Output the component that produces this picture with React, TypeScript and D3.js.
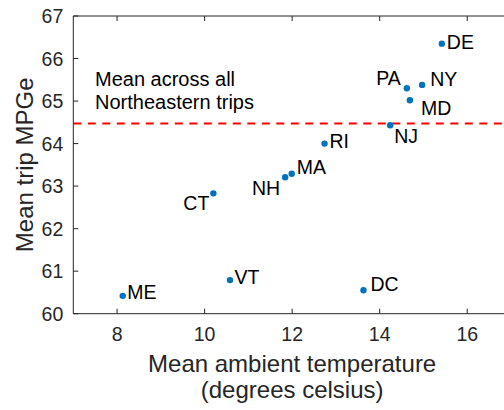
import * as d3 from "d3";

const states = ["DE", "PA", "NY", "MD", "NJ", "RI", "MA", "NH", "CT", "ME", "VT", "DC"];
const temps = [15.42, 14.62, 14.97, 14.69, 14.24, 12.74, 11.99, 11.84, 10.2, 8.13, 10.58, 13.63];
const mpge = [66.35, 65.3, 65.38, 65.02, 64.43, 64.0, 63.29, 63.21, 62.83, 60.42, 60.79, 60.55];
const meanMpge = 64.47;
const xTicks = [8, 10, 12, 14, 16];
const yTicks = [60, 61, 62, 63, 64, 65, 66, 67];

// where each state label sits relative to its dot
const labelPos: Record<string, { anchor: string; dx: number; dy: number }> = {
  DE: { anchor: "start", dx: 5, dy: -2 },
  PA: { anchor: "end", dx: -6, dy: -10 },
  NY: { anchor: "start", dx: 8, dy: -6 },
  MD: { anchor: "start", dx: 11, dy: 8 },
  NJ: { anchor: "start", dx: 4, dy: 11 },
  RI: { anchor: "start", dx: 5, dy: -3 },
  MA: { anchor: "start", dx: 5, dy: -7 },
  NH: { anchor: "end", dx: -5, dy: 11 },
  CT: { anchor: "end", dx: -4, dy: 9.5 },
  ME: { anchor: "start", dx: 4.5, dy: -3.4 },
  VT: { anchor: "start", dx: 4.5, dy: -3.3 },
  DC: { anchor: "start", dx: 7, dy: -6 },
};

const W = 504;
const H = 410;
const left = 73.3;
const right = 511;
const top = 16;
const bottom = 313.7;
const font = "'Liberation Sans', Arial, Helvetica, sans-serif";
const axisColor = "#262626";

export default function App() {
  const x = d3.scaleLinear().domain([7, 17]).range([left, right]);
  const y = d3.scaleLinear().domain([60, 67]).range([bottom, top]);
  const tickLen = 5;

  return (
    <svg
      width={W}
      height={H}
      style={{ position: "absolute", left: 0, top: 0, background: "#fff" }}
      fontFamily={font}
    >
      <rect width={W} height={H} fill="#fff" />

      {/* mean line */}
      <line
        x1={left}
        x2={right}
        y1={y(meanMpge)}
        y2={y(meanMpge)}
        stroke="#ff0000"
        strokeWidth={2}
        strokeDasharray="8,6.5"
      />

      {/* axes box */}
      <g stroke={axisColor} strokeWidth={1} fill="none">
        <line x1={left} x2={right} y1={bottom} y2={bottom} />
        <line x1={left} x2={right} y1={top} y2={top} />
        <line x1={left} x2={left} y1={top} y2={bottom} />
        <line x1={right} x2={right} y1={top} y2={bottom} />
        {xTicks.map((t) => (
          <g key={"xt" + t}>
            <line x1={x(t)} x2={x(t)} y1={bottom} y2={bottom - tickLen} />
            <line x1={x(t)} x2={x(t)} y1={top} y2={top + tickLen} />
          </g>
        ))}
        {yTicks.map((t) => (
          <line key={"yt" + t} x1={left} x2={left + tickLen} y1={y(t)} y2={y(t)} />
        ))}
      </g>

      {/* tick labels */}
      <g fill={axisColor} fontSize={19.5}>
        {xTicks.map((t) => (
          <text key={"xl" + t} x={x(t)} y={bottom + 27} textAnchor="middle">
            {t}
          </text>
        ))}
        {yTicks.map((t) => (
          <text key={"yl" + t} x={left - 10} y={y(t) + 7} textAnchor="end">
            {t}
          </text>
        ))}
      </g>

      {/* axis titles */}
      <g fill={axisColor} fontSize={24}>
        <text x={(left + right) / 2} y={371.7} textAnchor="middle">
          Mean ambient temperature
        </text>
        <text x={(left + right) / 2} y={397.5} textAnchor="middle">
          (degrees celsius)
        </text>
        <text
          transform={`translate(${33},${(top + bottom) / 2}) rotate(-90)`}
          textAnchor="middle"
        >
          Mean trip MPGe
        </text>
      </g>

      {/* annotation */}
      <g fill="#000" fontSize={20}>
        <text x={95} y={86}>Mean across all</text>
        <text x={95} y={109.3}>Northeastern trips</text>
      </g>

      {/* points */}
      {states.map((s, i) => {
        const p = labelPos[s];
        const cx = x(temps[i]);
        const cy = y(mpge[i]);
        return (
          <g key={s}>
            <circle cx={cx} cy={cy} r={3.2} fill="#0072BD" />
            <text
              x={cx + p.dx}
              y={cy + p.dy + 7}
              textAnchor={p.anchor}
              fontSize={19.5}
              fill="#000"
            >
              {s}
            </text>
          </g>
        );
      })}
    </svg>
  );
}
